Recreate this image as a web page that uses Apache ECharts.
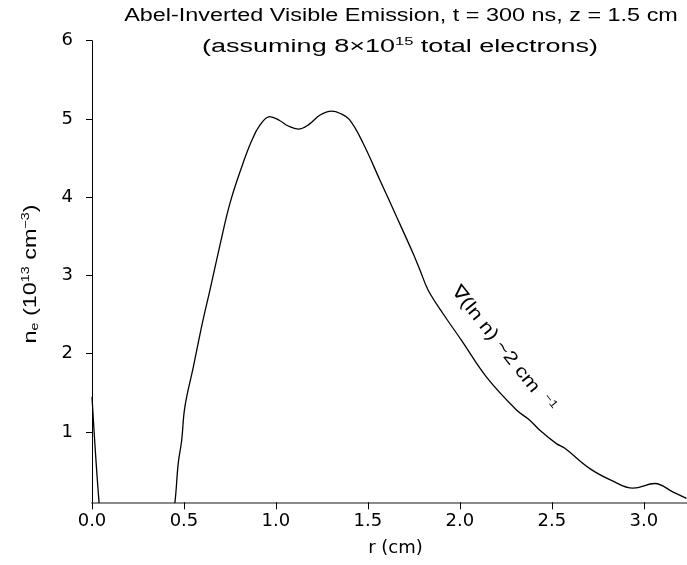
<!DOCTYPE html>
<html><head><meta charset="utf-8">
<script src="https://cdn.jsdelivr.net/npm/echarts@6/dist/echarts.min.js"></script>
<style>html,body{margin:0;padding:0;background:#fff}#c{width:687px;height:565px}</style>
</head><body><div id="c"></div>
<script>
const rValues = [0, 0.04, 0.05, 0.44, 0.451, 0.469, 0.4875, 0.505, 0.551, 0.60, 0.641, 0.696, 0.75, 0.813, 0.868, 0.913, 0.967, 1.02, 1.067, 1.121, 1.18, 1.24, 1.303, 1.35, 1.40, 1.474, 1.565, 1.656, 1.746, 1.783, 1.828, 1.909, 2.009, 2.145, 2.308, 2.38, 2.435, 2.525, 2.571, 2.707, 2.824, 2.942, 3.06, 3.16, 3.232];
const neValues = [1.45, 0.05, 0, 0, 0.1, 0.6, 0.89, 1.32, 1.83, 2.39, 2.81, 3.39, 3.92, 4.38, 4.72, 4.92, 5.03, 4.98, 4.91, 4.87, 4.93, 5.05, 5.10, 5.07, 4.99, 4.69, 4.22, 3.75, 3.28, 3.07, 2.81, 2.51, 2.17, 1.70, 1.28, 1.15, 1.02, 0.85, 0.79, 0.53, 0.38, 0.28, 0.34, 0.23, 0.15];
const xTicks = [0, 0.5, 1.0, 1.5, 2.0, 2.5, 3.0];
const yTicks = [1, 2, 3, 4, 5, 6];

const FONT = '"Liberation Sans", Arial, sans-serif';
const TFONT = '"DejaVu Sans", sans-serif';
const chart = echarts.init(document.getElementById('c'), null, {renderer: 'canvas'});
const data = rValues.map((r, i) => [r, neValues[i]]);
chart.setOption({
  animation: false,
  backgroundColor: '#fff',
  grid: {left: 92, right: 0, top: 40.7, bottom: 62.7},
  xAxis: {
    type: 'value', min: 0, max: 3.235,
    axisLine: {show: true, lineStyle: {color: '#8a8a8a', width: 2}},
    axisTick: {show: true, customValues: xTicks, length: 7, lineStyle: {color: '#000', width: 1}},
    axisLabel: {customValues: xTicks, formatter: v => v.toFixed(1), color: '#000', fontSize: 18, fontFamily: TFONT, margin: 10},
    splitLine: {show: false},
    name: 'r (cm)', nameLocation: 'middle', nameGap: 37,
    nameTextStyle: {color: '#000', fontSize: 18, fontFamily: TFONT, padding: [0, 0, 0, 12]}
  },
  yAxis: {
    type: 'value', min: 0.1, max: 6,
    axisLine: {show: true, lineStyle: {color: '#000', width: 1}},
    axisTick: {show: true, customValues: yTicks, length: 6, lineStyle: {color: '#000', width: 1}},
    axisLabel: {customValues: yTicks, color: '#000', fontSize: 18, fontFamily: TFONT, margin: 19},
    splitLine: {show: false}
  },
  series: [{
    type: 'line', data: data, smooth: 0.4, showSymbol: false, clip: true,
    lineStyle: {color: '#000', width: 1.3}
  }],
  graphic: [
    {type: 'text', x: 401, y: 16, scaleX: 1.3, style: {
      text: 'Abel-Inverted Visible Emission, t = 300 ns, z = 1.5 cm', fill: '#000', font: '18px ' + FONT,
      align: 'center', verticalAlign: 'middle'}},
    {type: 'text', x: 400, y: 47, scaleX: 1.5, style: {
      text: '(assuming 8×10{sup|15} total electrons)', fill: '#000', font: '18px ' + FONT,
      align: 'center', verticalAlign: 'middle',
      rich: {sup: {fontSize: 11, fontFamily: FONT, padding: [0, 0, 10, 0], fill: '#000'}}
    }},
    {type: 'text', x: 31, y: 274, rotation: Math.PI / 2, scaleX: 1.3, style: {
      text: 'n{sub|e} (10{sup|13} cm{sup|−3})', fill: '#000', font: '18px ' + FONT,
      align: 'center', verticalAlign: 'middle',
      rich: {sup: {fontSize: 11, fontFamily: FONT, padding: [0, 0, 10, 0], fill: '#000'},
             sub: {fontSize: 11, fontFamily: FONT, padding: [8, 0, 0, 0], fill: '#000'}}
    }},
    {type: 'text', x: 503, y: 349, rotation: -0.9, scaleX: 1.22, style: {
      text: '∇(ln n) ~2 cm{sup|−1}', fill: '#000', font: '18px ' + FONT,
      align: 'center', verticalAlign: 'middle',
      rich: {sup: {fontSize: 11, fontFamily: FONT, padding: [0, 0, 10, 8], fill: '#000'}}
    }}
  ]
});
</script></body></html>
